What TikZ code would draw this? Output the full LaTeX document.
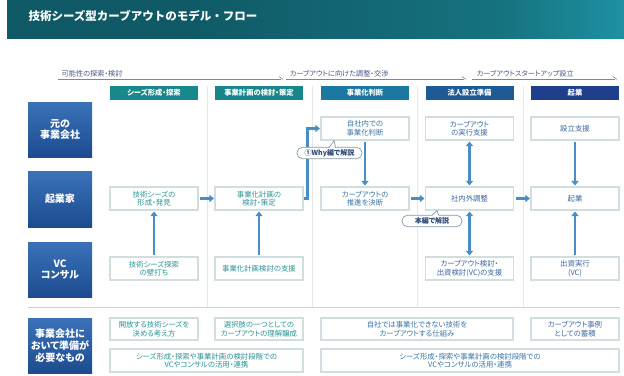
\documentclass[tikz,border=0pt]{standalone}
\usepackage{fontspec}
\setmainfont{Noto Sans CJK JP}[RawFeature=+palt]
\newfontfamily\titlefont{Noto Sans CJK JP}
\usetikzlibrary{arrows.meta,calc}
\definecolor{bA}{HTML}{0F5A66}
\definecolor{bB}{HTML}{16727F}
\definecolor{bC}{HTML}{22A0B4}
\definecolor{bD}{HTML}{0E4553}
\definecolor{h1}{HTML}{17898C}
\definecolor{h2}{HTML}{178589}
\definecolor{h3}{HTML}{1C78A0}
\definecolor{h4}{HTML}{1F5A96}
\definecolor{h5}{HTML}{1F3F8C}
\definecolor{t1}{HTML}{2A9396}
\definecolor{t3}{HTML}{3A76A8}
\definecolor{t4}{HTML}{3D67A0}
\definecolor{boxc}{HTML}{D2DDE0}
\definecolor{arrc}{HTML}{4A8CC4}
\definecolor{phasec}{HTML}{4A5A80}
\definecolor{phasel}{HTML}{7888A0}
\definecolor{sepc}{HTML}{E4E9ED}
\definecolor{hsep}{HTML}{C8D2DA}
\definecolor{pillc}{HTML}{8898A8}
\definecolor{pillt}{HTML}{2D4A7A}
\definecolor{rlA}{HTML}{3A72B9}
\definecolor{rlB}{HTML}{1D4B8F}
\pgfdeclarehorizontalshading{bannershade}{100bp}{color(0bp)=(bA); color(40bp)=(bA); color(65bp)=(bB); color(80bp)=(bC); color(88bp)=(bB); color(100bp)=(bD)}
\begin{document}
\begin{tikzpicture}[x=1pt,y=-1pt,
  font=\fontsize{7.4}{8.6}\selectfont,
  box/.style={draw=boxc, line width=1.1pt, fill=white, minimum width=88pt, minimum height=23pt, align=center, inner sep=1pt},
  hdr/.style={minimum width=88pt, minimum height=14pt, inner sep=0pt, text=white, font=\fontsize{7.3}{8}\selectfont\bfseries},
  rowlab/.style={minimum width=64pt, minimum height=55pt, inner sep=0pt, text=white, align=center, top color=rlA, bottom color=rlB, font=\fontsize{10}{11.8}\selectfont\bfseries},
  conn/.style={draw=arrc, line width=2.4pt, -{Triangle[width=7pt,length=4.5pt]}},
  dconn/.style={draw=arrc, line width=2.4pt, {Triangle[width=7pt,length=4.5pt]}-{Triangle[width=7pt,length=4.5pt]}},
  pill/.style={draw=pillc, line width=0.7pt, fill=white, rounded corners=5.5pt, minimum height=11.5pt, inner sep=1pt, text=pillt, font=\fontsize{7}{7.5}\selectfont\bfseries},
  phase/.style={text=phasec, anchor=south west, inner sep=0.5pt, font=\fontsize{7.2}{7.5}\selectfont},
  phaseline/.style={draw=phasel, line width=0.6pt}
]
\useasboundingbox (0,0) rectangle (624,375);
% banner
\shade[shading=bannershade] (7,0) rectangle (624,38);
\node[anchor=west, text=white, font=\titlefont\fontsize{11.5}{12}\selectfont\bfseries] (title) at (25,16) {技術シーズ型カーブアウトのモデル・フロー};

% phase labels
\node[phase] (p1) at (61,78) {可能性の探索・検討};
\node[phase] (p2) at (289,78) {カーブアウトに向けた調整・交渉};
\node[phase] (p3) at (476,78) {カーブアウトスタートアップ設立};
\draw[phaseline] (58,79) -- (281,79);
\draw[phaseline] (279,76.5) -- (283,79.5);
\draw[phaseline] (286,79) -- (464,79);
\draw[phaseline] (462,76.5) -- (466,79.5);
\draw[phaseline] (472,79) -- (615,79);
\draw[phaseline] (613,76.5) -- (617,79.5);

% column separators
\foreach \xx in {207,312,417,523}{\draw[sepc, line width=0.7pt] (\xx,86) -- (\xx,307);}
\draw[hsep, line width=0.8pt] (28,307) -- (620,307);

% headers
\node[hdr, fill=h1] (hd1) at (154,93) {シーズ形成・探索};
\node[hdr, fill=h2] (hd2) at (259,93) {事業計画の検討・策定};
\node[hdr, fill=h3] (hd3) at (365,93) {事業化判断};
\node[hdr, fill=h4] (hd4) at (469.5,93) {法人設立準備};
\node[hdr, fill=h5] (hd5) at (575,93) {起業};

% row labels
\node[rowlab] (rl1) at (60,129.5) {元の\\事業会社};
\node[rowlab, minimum height=56pt] (rl2) at (60,199) {起業家};
\node[rowlab] (rl3) at (60,269.5) {VC\\コンサル};
\node[rowlab] (rl4) at (60,345.5) {事業会社に\\おいて準備が\\必要なもの};

% row 1
\node[box, text=t3] (n13) at (365,128.5) {自社内での\\事業化判断};
\node[box, text=t4] (n14) at (469.5,128.5) {カーブアウト\\の実行支援};
\node[box, text=t4] (n15) at (575,128.5) {設立支援};
% row 2
\node[box, text=t1] (n21) at (154,198.5) {技術シーズの\\形成・発見};
\node[box, text=t1] (n22) at (259,198.5) {事業化計画の\\検討・策定};
\node[box, text=t3] (n23) at (365,198.5) {カーブアウトの\\推進を決断};
\node[box, text=t4] (n24) at (469.5,198.5) {社内外調整};
\node[box, text=t4] (n25) at (575,198.5) {起業};
% row 3
\node[box, text=t1] (n31) at (154,268.5) {技術シーズ探索\\の壁打ち};
\node[box, text=t1] (n32) at (259,268.5) {事業化計画検討の支援};
\node[box, text=t4] (n34) at (469.5,268.5) {カーブアウト検討・\\出資検討(VC)の支援};
\node[box, text=t4] (n35) at (575,268.5) {出資実行\\(VC)};
% bottom rows
\node[box, text=t1, minimum height=22pt] (b11) at (154,329) {開放する技術シーズを\\決める考え方};
\node[box, text=t1, minimum height=22pt] (b12) at (259,329) {選択肢の一つとしての\\カーブアウトの理解醸成};
\node[box, text=t3, minimum height=22pt, minimum width=192pt] (b13) at (417,329) {自社では事業化できない技術を\\カーブアウトする仕組み};
\node[box, text=t4, minimum height=22pt] (b15) at (575,329) {カーブアウト事例\\としての蓄積};
\node[box, text=t1, minimum width=193pt] (b21) at (206.5,360.5) {シーズ形成・探索や事業計画の検討段階での\\VCやコンサルの活用・連携};
\node[box, text=t3, minimum width=298pt] (b22) at (470,360.5) {シーズ形成・探索や事業計画の検討段階での\\VCやコンサルの活用・連携};

% connectors
\draw[conn, shorten <=1.5pt, shorten >=0.5pt] (n21.east) -- (n22.west);
\draw[conn, shorten >=0.5pt] (n22.east) -- ++(4,0) |- (n13.west);
\draw[conn, shorten <=1pt, shorten >=1pt] (n13.south) -- (n23.north);
\draw[conn, shorten <=1.5pt, shorten >=0.5pt] (n23.east) -- (n24.west);
\draw[conn, shorten <=1.5pt, shorten >=0.5pt] (n24.east) -- (n25.west);
\draw[dconn, shorten <=1pt, shorten >=1pt] (n14.south) -- (n24.north);
\draw[dconn, shorten <=1pt, shorten >=1pt] (n24.south) -- (n34.north);
\draw[conn, shorten <=1pt, shorten >=1pt] (n15.south) -- (n25.north);
\draw[conn, shorten <=1pt, shorten >=1pt] (n35.north) -- (n25.south);
\draw[conn, shorten <=1pt, shorten >=1pt] (n31.north) -- (n21.south);
\draw[conn, shorten <=1pt, shorten >=1pt] (n32.north) -- (n22.south);

% callouts
\node[pill, minimum width=65pt] (c1) at (329.5,153) {①Why編で解説};
\fill[white] (329,148.4) -- (334,140.6) -- (335.6,148.4) -- cycle;
\draw[pillc, line width=0.7pt] (329,147.6) -- (334,140.6) -- (335.6,147.6);
\node[pill, minimum width=60pt] (c2) at (432,221) {本編で解説};
\fill[white] (432,215.9) -- (437,210.6) -- (438.6,215.9) -- cycle;
\draw[pillc, line width=0.7pt] (432,215.1) -- (437,210.6) -- (438.6,215.1);
\end{tikzpicture}
\end{document}
